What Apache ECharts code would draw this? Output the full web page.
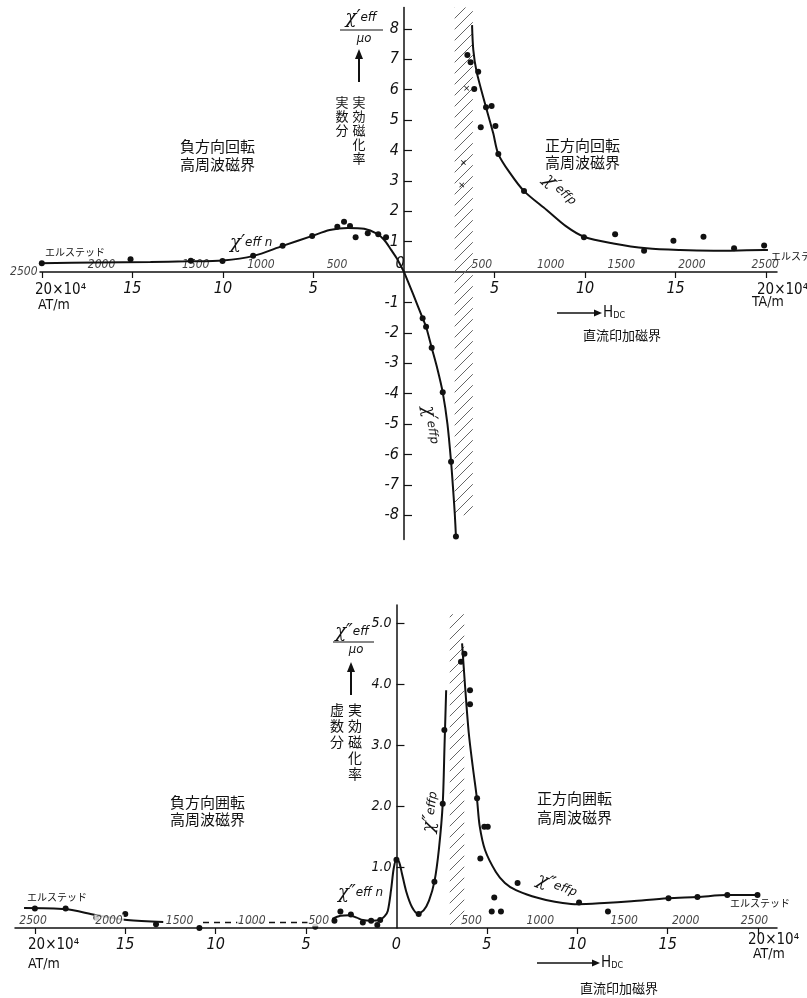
<!DOCTYPE html>
<html><head><meta charset="utf-8">
<script src="https://cdn.jsdelivr.net/npm/echarts@6/dist/echarts.min.js"></script>
<style>html,body{margin:0;padding:0;background:#fff}#c{width:807px;height:998px}</style>
</head><body><div id="c"></div>
<script>
// ===== Upper panel: real part χ'eff/μ0 vs Hdc (×10^4 AT/m) =====
const realYTicks = [-8,-7,-6,-5,-4,-3,-2,-1,1,2,3,4,5,6,7,8];
const realXTicks = [-20,-15,-10,-5,5,10,15,20];
const realXLabels = [-15,-10,-5,5,10,15];
const realNegCurve = [[-20.1,0.29],[-17,0.31],[-14,0.33],[-12,0.35],[-10,0.38],[-8.3,0.53],[-6.7,0.86],[-5.1,1.18],[-4.1,1.38],[-3.1,1.45],[-2.2,1.42],[-1.5,1.26],[-1.1,1.06],[-0.7,0.72],[-0.4,0.45],[0,0]];
const realPNegBranch = [[0,0],[0.5,-0.72],[1.03,-1.52],[1.22,-1.8],[1.53,-2.49],[1.85,-3.2],[2.14,-3.96],[2.4,-5.0],[2.6,-6.24],[2.72,-7.2],[2.81,-8.0],[2.87,-8.7]];
const realPosCurve = [[3.76,8.12],[3.83,7.3],[4.01,6.59],[4.53,5.42],[4.93,4.56],[5.21,3.88],[5.86,3.25],[6.63,2.66],[7.88,2.04],[8.98,1.49],[9.94,1.16],[11.56,0.94],[13.4,0.78],[15.25,0.72],[17.1,0.7],[19.86,0.72],[20.1,0.72]];
const realDots = [[-20,0.29],[-15.1,0.42],[-11.77,0.37],[-10.02,0.36],[-8.33,0.53],[-6.7,0.86],[-5.07,1.18],[-3.68,1.49],[-3.31,1.65],[-2.98,1.51],[-2.67,1.14],[-2.0,1.27],[-1.42,1.24],[-0.99,1.14],
  [1.03,-1.52],[1.22,-1.8],[1.53,-2.49],[2.14,-3.96],[2.6,-6.24],[2.87,-8.7],
  [3.5,7.14],[3.68,6.9],[4.1,6.59],[3.88,6.02],[4.53,5.42],[4.84,5.46],[4.24,4.76],[5.05,4.8],[5.21,3.88],[6.63,2.66],[9.94,1.14],[11.66,1.24],[13.26,0.7],[14.88,1.03],[16.54,1.16],[18.23,0.78],[19.89,0.87]];
const realCrosses = [[3.46,6.04],[3.28,3.6],[3.19,2.86]];
const realHatch = [[2.8,-8.0],[3.8,8.7]];
const realOeLabels = [[-16.7,'2000'],[-11.5,'1500'],[-7.9,'1000'],[-3.7,'500'],[4.3,'500'],[8.1,'1000'],[12.0,'1500'],[15.9,'2000'],[19.95,'2500']];
const realOeLeftEnd = [[-20.1,'2500']];

// ===== Lower panel: imaginary part χ''eff/μ0 =====
const imagYTicks = [1,2,3,4,5];
const imagXTicks = [-20,-15,-10,-5,5,10,15,20];
const imagXLabels = [-15,-10,-5,0,5,10,15];
const imagFarLeftCurve = [[-20.6,0.33],[-18.3,0.31],[-16.6,0.21],[-14.9,0.13],[-12.9,0.1]];
const imagDashed = [[-10.7,0.09],[-4.9,0.09]];
const imagCenterCurve = [[-3.55,0.15],[-3.1,0.2],[-2.6,0.21],[-2.2,0.17],[-1.86,0.13],[-1.4,0.12],[-0.94,0.13],[-0.66,0.19],[-0.48,0.28],[-0.3,0.62],[-0.15,0.98],[0,1.13],[0.15,1.08],[0.3,0.9],[0.54,0.6],[0.85,0.35],[1.18,0.24],[1.5,0.29],[1.8,0.45],[2.1,0.76],[2.35,1.3],[2.56,2.04],[2.66,3.0],[2.75,3.9]];
const imagRightCurve = [[3.63,4.67],[3.8,3.95],[4.0,3.2],[4.22,2.65],[4.45,2.13],[4.6,1.68],[4.9,1.28],[5.5,0.92],[6.0,0.74],[6.61,0.62],[7.5,0.52],[8.27,0.46],[9.2,0.41],[10.02,0.39],[11.5,0.41],[13,0.44],[15,0.49],[16.65,0.51],[18.3,0.54],[19.96,0.54]];
const imagDots = [[-20,0.32],[-18.3,0.32],[-16.6,0.17],[-15.0,0.23],[-13.3,0.06],[-10.9,0.0],[-4.49,0.02],[-3.43,0.12],[-3.1,0.27],[-2.52,0.22],[-1.86,0.09],[-1.4,0.12],[-1.06,0.05],[-0.9,0.13],[0,1.12],[1.23,0.23],[2.1,0.76],[2.56,2.04],[2.65,3.25],
  [3.57,4.37],[3.76,4.5],[4.07,3.9],[4.07,3.67],[4.46,2.13],[4.86,1.66],[5.05,1.66],[4.64,1.14],[6.7,0.74],[5.41,0.5],[5.27,0.27],[5.78,0.27],[10.1,0.42],[11.7,0.27],[15.05,0.49],[16.65,0.51],[18.3,0.54],[19.97,0.54]];
const imagHatch = [[2.95,0.05],[3.75,5.15]];
const imagOeLabels = [[-20.1,'2500'],[-15.9,'2000'],[-12,'1500'],[-8.0,'1000'],[-4.3,'500'],[4.15,'500'],[7.96,'1000'],[12.6,'1500'],[16.0,'2000'],[19.8,'2500']];

const FN = "'Liberation Sans Narrow','DejaVu Sans Condensed','DejaVu Sans',sans-serif";
const JP = "'Noto Sans CJK JP',sans-serif";
const INK = '#111';

// grid geometry
const G0 = {left:40, top:7.5, width:737, height:532, xmin:-20.1, xmax:20.6, ymin:-8.8, ymax:8.7};
const G1 = {left:15, top:605, width:762, height:323, xmin:-21.1, xmax:21.05, ymin:0, ymax:5.3};
function yOff(G){ return -(-G.xmin/(G.xmax-G.xmin))*G.width; }
function xOff(G){ return -(-G.ymin/(G.ymax-G.ymin))*G.height; }

// hatch pattern
const pc = document.createElement('canvas'); pc.width = 11; pc.height = 11;
const g = pc.getContext('2d'); g.strokeStyle = '#666'; g.lineWidth = 1;
g.beginPath(); g.moveTo(0,11); g.lineTo(11,0); g.moveTo(-1,1); g.lineTo(1,-1); g.moveTo(10,12); g.lineTo(12,10); g.stroke();
const hatch = {image: pc, repeat: 'repeat'};

function xAx(grid, G, ticks, labels) {
  return {type:'value', gridIndex:grid, min:G.xmin, max:G.xmax, position:'bottom', offset:xOff(G), splitLine:{show:false},
    axisLine:{onZero:false, lineStyle:{color:INK, width:1.5}},
    axisTick:{show:true, customValues:ticks, length:6, lineStyle:{color:INK, width:1.2}},
    axisLabel:{customValues:labels, formatter:v=>String(Math.abs(v)), margin:9, fontSize:16, fontFamily:FN, fontStyle:'italic', color:INK}};
}
function yAx(grid, G, ticks, fmt, fs) {
  return {type:'value', gridIndex:grid, min:G.ymin, max:G.ymax, position:'left', offset:yOff(G), splitLine:{show:false},
    axisLine:{onZero:false, lineStyle:{color:INK, width:1.5}},
    axisTick:{show:true, inside:true, customValues:ticks, length:8, lineStyle:{color:INK, width:1.2}},
    axisLabel:{customValues:ticks, formatter:fmt, margin:5, fontSize:fs, fontFamily:FN, fontStyle:'italic', color:INK}};
}
function curve(xi, data, extra) {
  return Object.assign({type:'line', xAxisIndex:xi, yAxisIndex:xi, data, smooth:0.3, symbol:'none',
    lineStyle:{color:INK, width:2}, z:3, silent:true}, extra||{});
}
function oe(xi, data, pos) {
  return {type:'scatter', xAxisIndex:xi, yAxisIndex:xi, data:data.map(d=>[d[0],0,d[1]]), symbolSize:1,
    itemStyle:{color:'rgba(0,0,0,0)'}, z:6, silent:true,
    label:{show:true, position:pos, distance:1, formatter:p=>p.value[2], fontSize:12, fontFamily:FN, fontStyle:'italic', color:INK,
      backgroundColor: xi===1 ? '#fff' : 'transparent', padding:[0,1,0,1]}};
}
const crossPath = 'path://M0,1L1,0L5,4L9,0L10,1L6,5L10,9L9,10L5,6L1,10L0,9L4,5Z';

const chiRich = {c:{fontFamily:"'DejaVu Serif',serif", fontStyle:'italic', fontSize:18, fill:INK},
                 s:{fontFamily:"'DejaVu Sans',sans-serif", fontStyle:'italic', fontSize:12, fill:INK}};
function T(text, x, y, o) {
  o = o || {};
  return {type:'text', x, y, rotation:o.rot||0, z:100, silent:true,
    style:{text, fill:INK, font:o.font||('15px '+JP), align:o.align||'left', verticalAlign:o.va||'middle',
      textAlign:o.align||'left', textVerticalAlign:o.va||'middle', rich:o.rich, lineHeight:o.lh}};
}
function L(x1,y1,x2,y2,w){ return {type:'line', z:100, silent:true, shape:{x1,y1,x2,y2}, style:{stroke:INK, lineWidth:w||1.5}}; }
function P(pts){ return {type:'polygon', z:100, silent:true, shape:{points:pts}, style:{fill:INK}}; }
const hdcRich = {h:{fontFamily:FN,fontSize:15,fill:INK}, s:{fontFamily:FN,fontSize:9,fill:INK,padding:[6,0,0,0]}};

const graphics = [
  // upper panel
  T('負方向回転',180,146), T('高周波磁界',180,164),
  T('正方向回転',545,145), T('高周波磁界',545,162),
  T('エルステッド',45,252,{font:'10px '+JP}), T('エルステッド',771,256,{font:'10px '+JP}),
  T('{c|χ′}{s|eff n}',230,243,{rich:chiRich}),
  T('{c|χ′}{s|effp}',560,190,{rich:chiRich, align:'center', rot:-0.75}),
  T('{c|χ′}{s|effp}',431,425,{rich:chiRich, align:'center', rot:-1.4}),
  T('{c|χ′}{s|eff}',361,18,{rich:chiRich, align:'center'}),
  L(340,30,383,30,1.2), T('μo',364,39,{font:'italic 13px '+FN, align:'center'}),
  L(359,82,359,56,2), P([[355,59],[363,59],[359,49]]),
  T('実\n効\n磁\n化\n率',359,95,{font:'13px '+JP, align:'center', va:'top', lh:14}),
  T('実\n数\n分',342,95,{font:'13px '+JP, align:'center', va:'top', lh:14}),
  T('20×10⁴',35,290,{font:'15px '+FN}), T('AT/m',38,305,{font:'14px '+FN}),
  T('20×10⁴',757,290,{font:'15px '+FN}), T('TA/m',752,302,{font:'14px '+FN}),
  T('0',400,264,{font:'italic 16px '+FN, align:'center'}),
  L(557,313,596,313,1.5), P([[594,309.5],[594,316.5],[602,313]]),
  T('{h|H}{s|DC}',603,313,{rich:hdcRich}),
  T('直流印加磁界',583,335,{font:'13px '+JP}),
  // lower panel
  T('負方向囲転',170,802), T('高周波磁界',170,819),
  T('正方向囲転',537,798), T('高周波磁界',537,817),
  T('エルステッド',27,897,{font:'10px '+JP}), T('エルステッド',730,903,{font:'10px '+JP}),
  T('{c|χ″}{s|eff n}',338,893,{rich:chiRich}),
  T('{c|χ″}{s|effp}',431,812,{rich:chiRich, align:'center', rot:1.45}),
  T('{c|χ″}{s|effp}',557,886,{rich:chiRich, align:'center', rot:-0.35}),
  T('{c|χ″}{s|eff}',352,632,{rich:chiRich, align:'center'}),
  L(333,642,374,642,1.2), T('μo',356,650,{font:'italic 13px '+FN, align:'center'}),
  L(351,695,351,670,2), P([[347,672],[355,672],[351,662]]),
  T('実\n効\n磁\n化\n率',355,702,{font:'14px '+JP, align:'center', va:'top', lh:16}),
  T('虚\n数\n分',337,702,{font:'14px '+JP, align:'center', va:'top', lh:16}),
  T('20×10⁴',28,945,{font:'15px '+FN}), T('AT/m',28,964,{font:'14px '+FN}),
  T('20×10⁴',748,940,{font:'15px '+FN}), T('AT/m',753,954,{font:'14px '+FN}),
  L(537,963,593,963,1.5), P([[592,959.5],[592,966.5],[600,963]]),
  T('{h|H}{s|DC}',601,963,{rich:hdcRich}),
  T('直流印加磁界',580,988,{font:'13px '+JP})
];

const option = {
  backgroundColor:'#fff', animation:false,
  grid:[
    {left:G0.left, top:G0.top, width:G0.width, height:G0.height, outerBoundsMode:'none', containLabel:false},
    {left:G1.left, top:G1.top, width:G1.width, height:G1.height, outerBoundsMode:'none', containLabel:false}
  ],
  xAxis:[ xAx(0,G0,realXTicks,realXLabels), xAx(1,G1,imagXTicks,imagXLabels) ],
  yAxis:[ yAx(0,G0,realYTicks,v=>String(v),16), yAx(1,G1,imagYTicks,v=>v.toFixed(1),14) ],
  series:[
    curve(0, realNegCurve), curve(0, realPNegBranch), curve(0, realPosCurve),
    {type:'scatter', xAxisIndex:0, yAxisIndex:0, data:realDots, symbolSize:6, itemStyle:{color:INK, opacity:1}, z:4, silent:true,
      markArea:{silent:true, itemStyle:{color:hatch, borderWidth:0, opacity:1}, data:[[{coord:realHatch[0]},{coord:realHatch[1]}]]}},
    {type:'scatter', xAxisIndex:0, yAxisIndex:0, data:realCrosses, symbol:crossPath, symbolSize:5, itemStyle:{color:INK, opacity:1}, z:4, silent:true},
    oe(0, realOeLabels, 'top'), oe(0, realOeLeftEnd, 'left'),
    curve(1, imagFarLeftCurve), curve(1, imagCenterCurve, {smooth:0.3}), curve(1, imagRightCurve),
    curve(1, imagDashed, {smooth:false, lineStyle:{color:INK, width:1.5, type:[6,5]}}),
    {type:'scatter', xAxisIndex:1, yAxisIndex:1, data:imagDots, symbolSize:6, itemStyle:{color:INK, opacity:1}, z:4, silent:true,
      markArea:{silent:true, itemStyle:{color:hatch, borderWidth:0, opacity:1}, data:[[{coord:imagHatch[0]},{coord:imagHatch[1]}]]}},
    oe(1, imagOeLabels, 'top')
  ],
  graphic: graphics
};
const chart = echarts.init(document.getElementById('c'), null, {renderer:'canvas'});
chart.setOption(option);
</script></body></html>
